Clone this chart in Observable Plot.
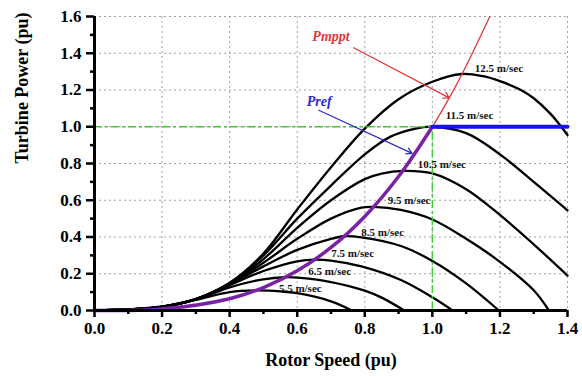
<!DOCTYPE html>
<html><head><meta charset="utf-8">
<script src="https://cdn.jsdelivr.net/npm/d3@7"></script>
<script src="https://cdn.jsdelivr.net/npm/@observablehq/plot@0.6"></script>
<style>body{margin:0;background:#fff}</style>
</head><body><div id="chart"></div>
<script>
// Wind speed labels
const speeds = ["5.5 m/sec","6.5 m/sec","7.5 m/sec","8.5 m/sec","9.5 m/sec","10.5 m/sec","11.5 m/sec","12.5 m/sec"];
// Turbine power curves [rotor speed, power]
const ws55 = [[0,0],[0.1,0.006],[0.2,0.022],[0.3,0.058],[0.4,0.1],[0.478,0.109],[0.55,0.104],[0.6,0.094],[0.7,0.05],[0.762,0]];
const ws65 = [[0,0],[0.1,0.006],[0.2,0.02],[0.3,0.059],[0.4,0.126],[0.5,0.17],[0.565,0.181],[0.6,0.179],[0.7,0.155],[0.8,0.108],[0.85,0.07],[0.917,0]];
const ws75 = [[0,0],[0.1,0.006],[0.2,0.02],[0.3,0.06],[0.4,0.138],[0.5,0.215],[0.6,0.268],[0.652,0.277],[0.7,0.272],[0.79,0.24],[0.907,0.166],[1.0,0.072],[1.06,0]];
const ws85 = [[0,0],[0.1,0.006],[0.2,0.02],[0.3,0.062],[0.4,0.143],[0.5,0.24],[0.6,0.33],[0.7,0.39],[0.739,0.404],[0.79,0.398],[0.907,0.351],[1.0,0.27],[1.1,0.148],[1.197,0]];
const ws95 = [[0,0],[0.1,0.006],[0.2,0.02],[0.3,0.062],[0.4,0.146],[0.5,0.26],[0.6,0.39],[0.7,0.5],[0.79,0.56],[0.826,0.564],[0.907,0.547],[1.0,0.495],[1.1,0.39],[1.2,0.265],[1.3,0.11],[1.345,0]];
const ws105 = [[0,0],[0.1,0.006],[0.2,0.02],[0.3,0.062],[0.4,0.148],[0.5,0.28],[0.6,0.45],[0.7,0.6],[0.8,0.715],[0.85,0.745],[0.913,0.76],[1.0,0.746],[1.1,0.66],[1.2,0.52],[1.3,0.36],[1.4,0.19]];
const ws115 = [[0,0],[0.1,0.006],[0.2,0.02],[0.3,0.062],[0.4,0.15],[0.5,0.3],[0.6,0.5],[0.7,0.68],[0.8,0.85],[0.875,0.945],[0.95,0.99],[1.0,1.0],[1.1,0.965],[1.2,0.85],[1.3,0.7],[1.4,0.545]];
const ws125 = [[0,0],[0.1,0.006],[0.2,0.02],[0.3,0.062],[0.4,0.15],[0.5,0.31],[0.6,0.55],[0.7,0.78],[0.8,0.99],[0.9,1.15],[1.0,1.245],[1.087,1.287],[1.15,1.275],[1.2,1.248],[1.262,1.2],[1.3,1.155],[1.35,1.07],[1.4,0.955]];
// Pmppt curve (red) and Pref (purple below rated, blue above)
const pmpptX = [0,0.2,0.4,0.5,0.6,0.7,0.8,0.9,1.0,1.05,1.1,1.17];
const pmpptY = [0,0.008,0.064,0.125,0.216,0.343,0.512,0.729,1.0,1.157,1.331,1.6];
const prefHighX = [1.0,1.4];
const prefHighY = [1.0,1.0];
// Reference (rated) lines
const ratedSpeed = [1.0];
const ratedPower = [1.0];
// Label positions (center) for wind speed labels
const labelX = [0.609,0.696,0.764,0.853,0.931,1.028,1.11,1.197];
const labelY = [0.122,0.214,0.312,0.427,0.601,0.797,1.064,1.318];
// Annotations
const annText = ["Pmppt","Pref"];
const annX = [0.7,0.665];
const annY = [1.49,1.14];
const arrowFrom = [[0.767,1.43],[0.664,1.09]];
const arrowTo = [[1.05,1.157],[0.94,0.855]];
// Ticks
const majorX = [0,0.2,0.4,0.6,0.8,1.0,1.2,1.4];
const minorX = [0.1,0.3,0.5,0.7,0.9,1.1,1.3];
const majorY = [0,0.2,0.4,0.6,0.8,1.0,1.2,1.4,1.6];
const minorY = [0.1,0.3,0.5,0.7,0.9,1.1,1.3,1.5];
const gridX = [0.2,0.4,0.6,0.8,1.0,1.2,1.4];
const gridY = [0.2,0.4,0.6,0.8,1.0,1.2,1.4,1.6];
const xTitle = "Rotor Speed (pu)";
const yTitle = "Turbine Power (pu)";

const curves = [ws55, ws65, ws75, ws85, ws95, ws105, ws115, ws125];
const curveData = speeds.flatMap((s, i) => curves[i].map(([x, y]) => ({speed: s, x, y})));
const pmppt = pmpptX.map((x, i) => ({x, y: pmpptY[i]}));
const prefLow = pmppt.filter(d => d.x <= 1.0);
const prefHigh = prefHighX.map((x, i) => ({x, y: prefHighY[i]}));
const labels = speeds.map((t, i) => ({t, x: labelX[i], y: labelY[i]}));
const ann = annText.map((t, i) => ({t, x: annX[i], y: annY[i], x1: arrowFrom[i][0], y1: arrowFrom[i][1], x2: arrowTo[i][0], y2: arrowTo[i][1]}));
const fmt = d => d.toFixed(1);
const green = "#45cc35";

const plot = Plot.plot({
  width: 582, height: 376,
  marginLeft: 94, marginRight: 15, marginTop: 16, marginBottom: 66,
  x: {domain: [0, 1.4], label: null},
  y: {domain: [0, 1.6], label: null},
  style: {fontFamily: '"Liberation Serif","Times New Roman",serif', fontWeight: "bold", fontSize: "17px", color: "black", background: "white"},
  marks: [
    Plot.ruleX(gridX, {stroke: "#a0a0a0", strokeDasharray: "2,3", strokeWidth: 1}),
    Plot.ruleY(gridY, {stroke: "#a0a0a0", strokeDasharray: "2,3", strokeWidth: 1}),
    Plot.line(curveData, {x: "x", y: "y", z: "speed", curve: "catmull-rom", stroke: "black", strokeWidth: 2.3}),
    Plot.ruleY(ratedPower, {x1: 0, x2: ratedSpeed[0], stroke: green, strokeDasharray: "8,3,3,3", strokeWidth: 1.5}),
    Plot.ruleX(ratedSpeed, {y1: 0, y2: ratedPower[0], stroke: green, strokeDasharray: "8,3,3,3", strokeWidth: 1.5}),
    Plot.line(pmppt, {x: "x", y: "y", curve: "catmull-rom", stroke: "#e0383a", strokeWidth: 1.3}),
    Plot.line(prefLow, {x: "x", y: "y", curve: "catmull-rom", stroke: "#7a22a6", strokeWidth: 3.5}),
    Plot.line(prefHigh, {x: "x", y: "y", stroke: "#1414e6", strokeWidth: 4}),
    Plot.arrow([ann[0]], {x1: "x1", y1: "y1", x2: "x2", y2: "y2", stroke: "#e0383a", strokeWidth: 1.2, headLength: 8}),
    Plot.arrow([ann[1]], {x1: "x1", y1: "y1", x2: "x2", y2: "y2", stroke: "#2a2ad0", strokeWidth: 1.2, headLength: 8}),
    Plot.text([ann[0]], {x: "x", y: "y", text: "t", fill: "#e0383a", fontSize: 14, fontStyle: "italic", fontWeight: "bold"}),
    Plot.text([ann[1]], {x: "x", y: "y", text: "t", fill: "#2a2ad0", fontSize: 14, fontStyle: "italic", fontWeight: "bold"}),
    Plot.text(labels, {x: "x", y: "y", text: "t", fontSize: 11, fontWeight: "bold", fill: "#111"}),
    Plot.axisX(majorX, {tickSize: 7, tickPadding: 4, strokeWidth: 2.5, tickFormat: fmt, fontSize: 17, label: null}),
    Plot.axisX(minorX, {tickSize: 4, strokeWidth: 2.5, tickFormat: () => "", label: null}),
    Plot.axisY(majorY, {tickSize: 8, tickPadding: 5, strokeWidth: 2.5, tickFormat: fmt, fontSize: 17, label: null}),
    Plot.axisY(minorY, {tickSize: 4, strokeWidth: 2.5, tickFormat: () => "", label: null}),
    Plot.ruleY([0], {stroke: "black", strokeWidth: 3}),
    Plot.ruleX([0], {stroke: "black", strokeWidth: 3}),
    Plot.text([xTitle], {frameAnchor: "bottom", dy: 55, fontSize: 18, fontWeight: "bold"}),
    Plot.text([yTitle], {frameAnchor: "left", dx: -72, rotate: -90, fontSize: 18, fontWeight: "bold"})
  ]
});
document.getElementById("chart").append(plot);
</script>
</body></html>
